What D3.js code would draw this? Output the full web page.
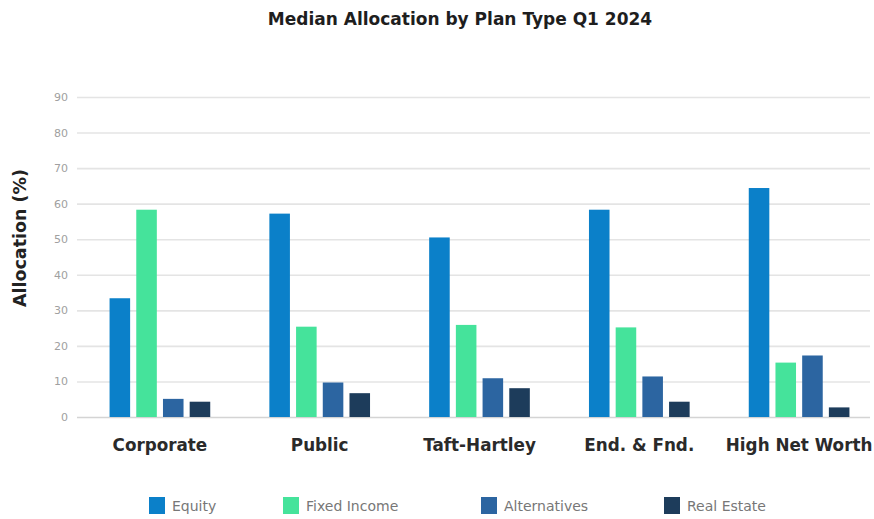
<!DOCTYPE html>
<html>
<head>
<meta charset="utf-8">
<script src="https://cdn.jsdelivr.net/npm/d3@7"></script>
<style>
  html, body { margin: 0; padding: 0; background: #fff; }
  svg { display: block; font-family: "DejaVu Sans", sans-serif; }
</style>
</head>
<body>
<svg id="chart" width="874" height="519"></svg>
<script>
// Plan types and series
const planTypes = ["Corporate", "Public", "Taft-Hartley", "End. & Fnd.", "High Net Worth"];
const seriesNames = ["Equity", "Fixed Income", "Alternatives", "Real Estate"];

// Median allocation (%) per plan type, one array per series
const equity       = [33.4, 57.2, 50.5, 58.3, 64.4];
const fixedIncome  = [58.3, 25.4, 25.9, 25.2, 15.3];
const alternatives = [5.1, 9.7, 10.9, 11.4, 17.3];
const realEstate   = [4.3, 6.7, 8.1, 4.3, 2.7];

const yTicks = [0, 10, 20, 30, 40, 50, 60, 70, 80, 90];

const seriesValues = [equity, fixedIncome, alternatives, realEstate];
const seriesColors = ["#0b80c9", "#45e39b", "#2c65a1", "#1d3c5b"];

const rows = planTypes.map((p, i) => ({
  plan: p,
  values: seriesNames.map((s, j) => ({ series: s, value: seriesValues[j][i] }))
}));

const svg = d3.select("#chart");

const x0 = d3.scaleBand()
  .domain(planTypes)
  .range([80, 879])
  .paddingInner(0.37)
  .paddingOuter(0.185);

const x1 = d3.scaleBand()
  .domain(seriesNames)
  .range([0, x0.bandwidth()])
  .paddingInner(0.23);

const y = d3.scaleLinear().domain([0, 90]).range([417, 97]);

const color = d3.scaleOrdinal().domain(seriesNames).range(seriesColors);

// Title
svg.append("text")
  .attr("x", 460)
  .attr("y", 25)
  .attr("text-anchor", "middle")
  .attr("font-size", 17)
  .attr("font-weight", "bold")
  .attr("fill", "#1e1e1e")
  .text("Median Allocation by Plan Type Q1 2024");

// Gridlines + y tick labels
const yAxis = d3.axisLeft(y)
  .tickValues(yTicks)
  .tickSize(-(870 - 77))
  .tickPadding(9);

const gy = svg.append("g")
  .attr("transform", "translate(77,0)")
  .call(yAxis);
gy.select(".domain").remove();
gy.selectAll(".tick line")
  .attr("stroke", d => d === 0 ? "#d4d4d4" : "#e4e4e4")
  .attr("stroke-width", 1.6);
gy.selectAll(".tick text")
  .attr("font-size", 11)
  .attr("font-family", "DejaVu Sans, sans-serif")
  .attr("fill", "#a0a0a0");

// Y axis title
svg.append("text")
  .attr("transform", "translate(26,238) rotate(-90)")
  .attr("text-anchor", "middle")
  .attr("font-size", 17.5)
  .attr("font-weight", "bold")
  .attr("fill", "#222")
  .text("Allocation (%)");

// Bars
const groups = svg.append("g")
  .selectAll("g")
  .data(rows)
  .join("g")
  .attr("transform", d => `translate(${x0(d.plan)},0)`);

groups.selectAll("rect")
  .data(d => d.values)
  .join("rect")
  .attr("x", d => x1(d.series))
  .attr("y", d => y(d.value))
  .attr("width", x1.bandwidth())
  .attr("height", d => y(0) - y(d.value))
  .attr("fill", d => color(d.series));

// Category labels
const xAxis = d3.axisBottom(x0).tickSize(0).tickPadding(0);
const gx = svg.append("g")
  .attr("transform", "translate(0,451)")
  .call(xAxis);
gx.select(".domain").remove();
gx.selectAll(".tick text")
  .attr("dy", 0)
  .attr("font-size", 16.8)
  .attr("font-weight", "bold")
  .attr("font-family", "DejaVu Sans, sans-serif")
  .attr("fill", "#2a2a2a");

// Legend
const legendX = [149, 283, 481, 664];
const legend = svg.append("g")
  .selectAll("g")
  .data(seriesNames)
  .join("g")
  .attr("transform", (d, i) => `translate(${legendX[i]},497)`);

legend.append("rect")
  .attr("width", 16)
  .attr("height", 17)
  .attr("fill", d => color(d));

legend.append("text")
  .attr("x", 23)
  .attr("y", 13.5)
  .attr("font-size", 14)
  .attr("fill", "#777")
  .text(d => d);
</script>
</body>
</html>
